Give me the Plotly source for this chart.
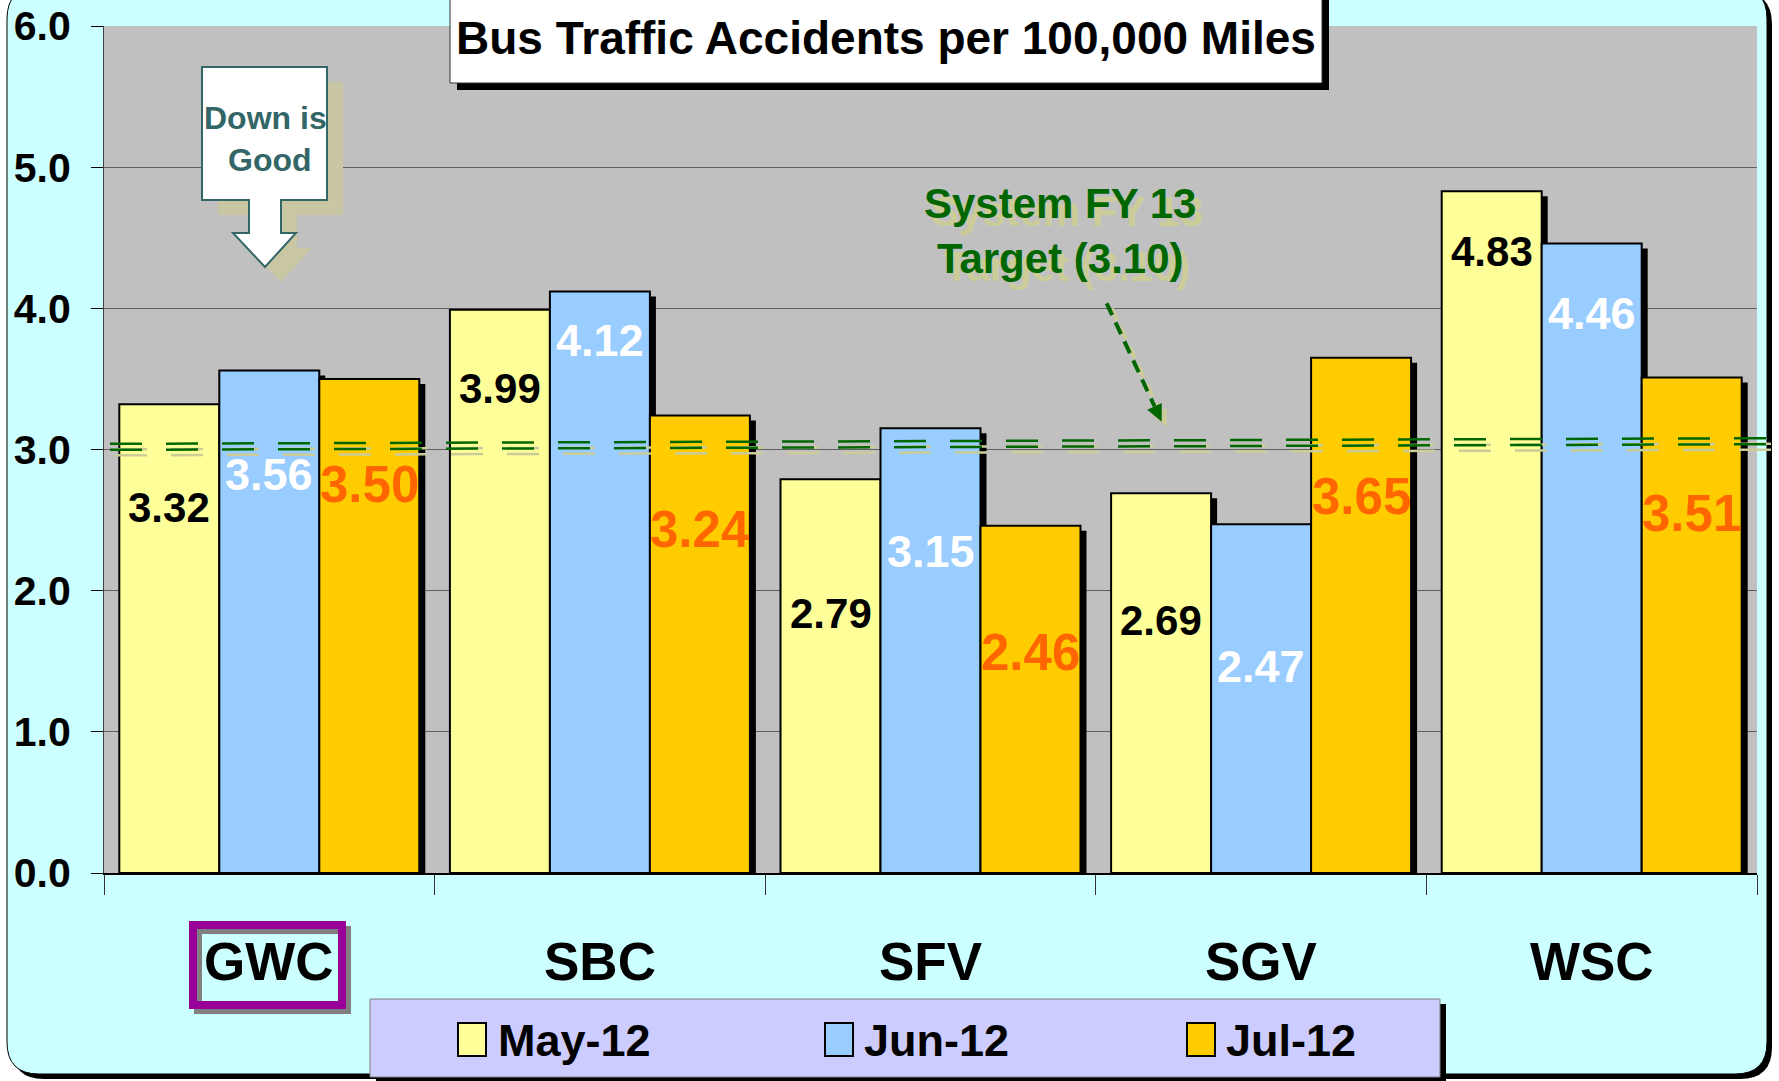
import plotly.graph_objects as go

# ---------------- data ----------------
categories = ["GWC", "SBC", "SFV", "SGV", "WSC"]
series_names = ["May-12", "Jun-12", "Jul-12"]
may_12 = [3.32, 3.99, 2.79, 2.69, 4.83]
jun_12 = [3.56, 4.12, 3.15, 2.47, 4.46]
jul_12 = [3.50, 3.24, 2.46, 3.65, 3.51]
y_tick_values = [0, 1, 2, 3, 4, 5, 6]
target_value = 3.10
target_line_y = [3.04, 3.08]          # drawn level of the target line (left end, right end)

# label vertical positions (data units) as placed in the original
label_y_may = [2.59, 3.43, 1.84, 1.79, 4.40]
label_y_jun = [2.82, 3.77, 2.28, 1.46, 3.96]
label_y_jul = [2.75, 2.43, 1.56, 2.67, 2.55]

# ---------------- styles ----------------
W, H = 1779, 1081
ML, MR, MT, MB = 104, 22, 26, 208
PW, PH = W - ML - MR, H - MT - MB
UNIT = PH / 6.0
BARGAP = 0.0926
BW = (1 - BARGAP) / 3

NARROW = "Liberation Sans Narrow, Arial Narrow, Liberation Sans, Arial, sans-serif"
ARIAL = "Liberation Sans, Arial, sans-serif"
colors = ["#FFFF99", "#99CCFF", "#FFCC00"]
label_colors = ["#000000", "#FFFFFF", "#FF6600"]
label_fonts = [(NARROW, 42), (ARIAL, 45), (NARROW, 51)]
GREEN = "#006600"
TAN = "#CCCC99"
TEAL = "#336666"


def X(px):
    return (px - ML) / PW


def Y(py):
    return (H - MB - py) / PH


def rect(x0, y0, x1, y1, **kw):
    return dict(type="rect", xref="paper", yref="paper",
                x0=X(x0), x1=X(x1), y0=Y(y1), y1=Y(y0), **kw)


def rounded_path(x0, y0, x1, y1, r):
    pts = [
        ("M", [(x0 + r, y0)]), ("L", [(x1 - r, y0)]), ("Q", [(x1, y0), (x1, y0 + r)]),
        ("L", [(x1, y1 - r)]), ("Q", [(x1, y1), (x1 - r, y1)]),
        ("L", [(x0 + r, y1)]), ("Q", [(x0, y1), (x0, y1 - r)]),
        ("L", [(x0, y0 + r)]), ("Q", [(x0, y0), (x0 + r, y0)]),
    ]
    s = ""
    for cmd, ps in pts:
        s += cmd + " ".join(f"{X(a):.5f},{Y(b):.5f}" for a, b in ps) + " "
    return s + "Z"


def poly_path(points):
    return "M" + " L".join(f"{X(a):.5f},{Y(b):.5f}" for a, b in points) + " Z"


fig = go.Figure()
series = [may_12, jun_12, jul_12]
for name, vals, col in zip(series_names, series, colors):
    fig.add_trace(go.Bar(
        x=categories, y=vals, name=name,
        marker=dict(color=col, line=dict(color="black", width=2)),
        showlegend=False, hovertemplate="%{x} " + name + ": %{y:.2f}<extra></extra>",
    ))

shapes = []
# page background with rounded frame and shadow
shapes.append(dict(type="path", xref="paper", yref="paper", layer="below",
                   path=rounded_path(12, -8, 1772, 1079, 32), fillcolor="black",
                   line=dict(width=0)))
shapes.append(dict(type="path", xref="paper", yref="paper", layer="below",
                   path=rounded_path(7, -13, 1767, 1074, 32), fillcolor="#CCFFFF",
                   line=dict(color="black", width=1)))
# plot area
shapes.append(rect(ML, MT, ML + PW, H - MB, layer="below", fillcolor="#C0C0C0",
                   line=dict(width=0)))

# bar shadows
dx = 6 / (PW / 5)
dy = 5 / UNIT
for k, vals in enumerate(series):
    for i, v in enumerate(vals):
        c = i + (k - 1) * BW
        shapes.append(dict(type="rect", xref="x", yref="y", layer="between",
                           x0=c - BW / 2 + dx, x1=c + BW / 2 + dx, y0=0, y1=v - dy,
                           fillcolor="black", line=dict(width=0)))

# target double dashed line (tan shadow first)
sep = 6 / UNIT
for off_x, off_y, col in [(5, -5.5 / UNIT, TAN), (0, 0, GREEN)]:
    for j in range(2):
        shapes.append(dict(type="line", xref="paper", yref="y", layer="above",
                           x0=X(110 + off_x), x1=X(1770 + off_x),
                           y0=target_line_y[0] - j * sep + off_y,
                           y1=target_line_y[1] - j * sep + off_y,
                           line=dict(color=col, width=2.5, dash="32px,24px")))

# target arrow
ax0, ay0, tx, ty = 1106.7, 303.3, 1161.7, 421.7
ln = ((tx - ax0) ** 2 + (ty - ay0) ** 2) ** 0.5
ux, uy = (tx - ax0) / ln, (ty - ay0) / ln
bx, by = tx - 17 * ux, ty - 17 * uy
for off, col in [(5, TAN), (0, GREEN)]:
    shapes.append(dict(type="line", xref="paper", yref="paper", layer="above",
                       x0=X(ax0 + off), y0=Y(ay0 + off), x1=X(bx + off), y1=Y(by + off),
                       line=dict(color=col, width=4, dash="13px,8px")))
    shapes.append(dict(type="path", xref="paper", yref="paper", layer="above",
                       path=poly_path([(tx + off, ty + off),
                                       (bx - 8 * uy + off, by + 8 * ux + off),
                                       (bx + 8 * uy + off, by - 8 * ux + off)]),
                       fillcolor=col, line=dict(width=0)))

# "Down is Good" callout
callout = [(202, 67), (327, 67), (327, 200), (281, 200), (281, 233), (296, 233),
           (265, 267), (233, 233), (249, 233), (249, 200), (202, 200)]
shapes.append(dict(type="path", xref="paper", yref="paper", layer="above",
                   path=poly_path([(a + 16, b + 15) for a, b in callout]),
                   fillcolor="#C9C7A3", line=dict(width=0)))
shapes.append(dict(type="path", xref="paper", yref="paper", layer="above",
                   path=poly_path(callout), fillcolor="white",
                   line=dict(color=TEAL, width=2)))

# title box
shapes.append(rect(457, -10, 1329, 90, layer="above", fillcolor="black", line=dict(width=0)))
shapes.append(rect(450, -10, 1322, 83, layer="above", fillcolor="white",
                   line=dict(color="#333333", width=1)))

# GWC highlight frame
shapes.append(rect(198, 930, 347, 1010, layer="above", fillcolor="rgba(0,0,0,0)",
                   line=dict(color="#808080", width=8)))
shapes.append(rect(193, 925, 342, 1005, layer="above", fillcolor="rgba(0,0,0,0)",
                   line=dict(color="#990099", width=8)))

# legend box
shapes.append(rect(376, 1004, 1446, 1081, layer="above", fillcolor="black", line=dict(width=0)))
shapes.append(rect(370, 999, 1440, 1077, layer="above", fillcolor="#CCCCFF",
                   line=dict(color="#808080", width=1)))
legend_sq_x = [458, 825, 1187]
legend_tx = [496, 862, 1224]
for sx, col in zip(legend_sq_x, colors):
    shapes.append(rect(sx, 1023, sx + 28, 1056, layer="above", fillcolor=col,
                       line=dict(color="black", width=2)))

ann = []
# title
ann.append(dict(text="Bus Traffic Accidents per 100,000 Miles", xref="paper", yref="paper",
                x=X(886), y=Y(38), xanchor="center", yanchor="middle", showarrow=False,
                font=dict(family=ARIAL, size=46, color="black", weight="bold")))
# category labels
for c in categories:
    ann.append(dict(text=c, xref="x", yref="paper", x=c, y=Y(962), xanchor="center",
                    yanchor="middle", showarrow=False,
                    font=dict(family=NARROW, size=53, color="black", weight="bold")))
# bar value labels
for k, (vals, ly) in enumerate(zip(series, [label_y_may, label_y_jun, label_y_jul])):
    fam, sz = label_fonts[k]
    for i, (v, yy) in enumerate(zip(vals, ly)):
        ann.append(dict(text=f"{v:.2f}", xref="x", yref="y", x=i + (k - 1) * BW, y=yy,
                        xanchor="center", yanchor="middle", showarrow=False,
                        font=dict(family=fam, size=sz, color=label_colors[k], weight="bold")))
# legend text
for tx_, name in zip(legend_tx, series_names):
    ann.append(dict(text=name, xref="paper", yref="paper", x=X(tx_), y=Y(1040),
                    xanchor="left", yanchor="middle", showarrow=False,
                    font=dict(family=ARIAL, size=45, color="black", weight="bold")))
# target text (with drop shadow)
ann.append(dict(text=f"System FY 13<br>Target ({target_value:.2f})", xref="paper",
                yref="paper", x=X(1060), y=Y(231), xanchor="center", yanchor="middle",
                showarrow=False, align="center",
                font=dict(family=ARIAL, size=42, color=GREEN, weight="bold",
                          shadow="7px 8px 0px #CCCC99")))
# Down is Good
ann.append(dict(text="Down is<br> Good", xref="paper", yref="paper", x=X(265), y=Y(139),
                xanchor="center", yanchor="middle", showarrow=False, align="center",
                font=dict(family=ARIAL, size=32, color=TEAL, weight="bold")))

fig.update_layout(
    width=W, height=H, autosize=False,
    margin=dict(l=ML, r=MR, t=MT, b=MB, pad=0, autoexpand=False),
    paper_bgcolor="white", plot_bgcolor="rgba(0,0,0,0)",
    barmode="group", bargap=BARGAP, bargroupgap=0,
    shapes=shapes, annotations=ann, showlegend=False,
    xaxis=dict(type="category", range=[-0.5, 4.5], tickson="boundaries", ticks="outside",
               ticklen=20, tickcolor="#333333", tickwidth=1, showticklabels=False,
               showline=True, linecolor="black", linewidth=2, showgrid=False,
               zeroline=False, fixedrange=True, automargin=False),
    yaxis=dict(range=[0, 6], tickvals=y_tick_values, tickformat=".1f", ticks="outside",
               ticklen=12, tickcolor="black", tickwidth=1, showgrid=True,
               gridcolor="#606060", gridwidth=1, showline=True, linecolor="#404040",
               linewidth=1, zeroline=False, ticklabelstandoff=12, fixedrange=True,
               automargin=False,
               tickfont=dict(family=ARIAL, size=41, color="black", weight="bold")),
)

fig.write_html("out.html", config={"displayModeBar": False},
               post_script="document.body.style.margin='0';document.body.style.overflow='hidden';")
